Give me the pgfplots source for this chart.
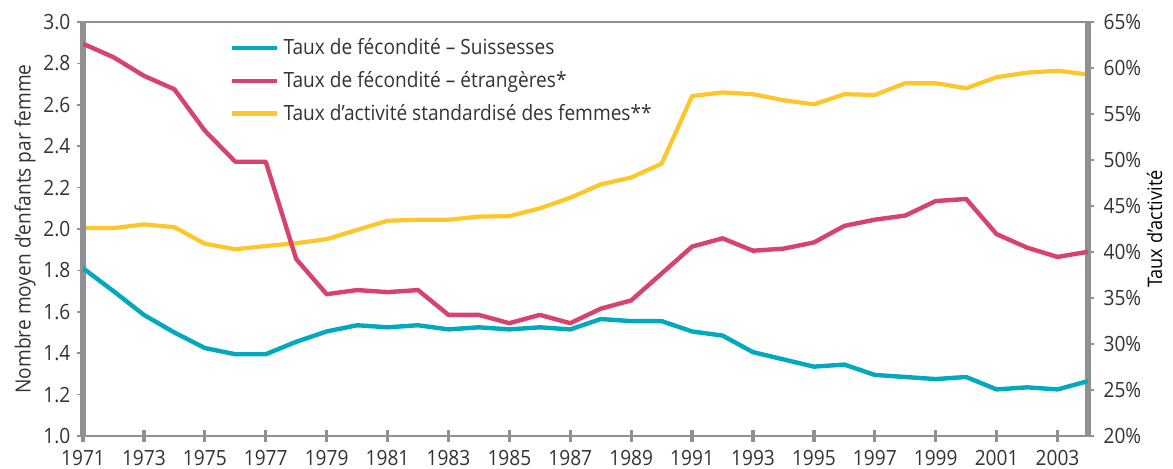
\documentclass[border=0pt]{standalone}
\usepackage{fontspec}
\setmainfont{Open Sans}[FakeStretch=0.91]
\usepackage{pgfplots}
\pgfplotsset{compat=1.18}
\definecolor{teal1}{HTML}{00A9BE}
\definecolor{red1}{HTML}{D8436E}
\definecolor{yel1}{HTML}{FFC629}
\definecolor{axgray}{HTML}{8E9093}
\definecolor{txt}{HTML}{333333}
\newcommand{\lblfont}{\fontsize{10.5}{12.6}\selectfont}
\pgfplotsset{
  common/.style={
    scale only axis, width=502.5pt, height=207pt,
    xmin=1971, xmax=2004,
    /pgf/number format/assume math mode=true,
    tick label style={font=\lblfont, text=txt},
    label style={font=\lblfont, text=txt},
    scaled ticks=false,
  }
}
\begin{document}
\begin{tikzpicture}
% right axis: activity rate
\begin{axis}[common,
  ymin=20, ymax=65,
  axis x line=none,
  axis y line=right,
  y axis line style={-, axgray, line width=2.6pt},
  ytick={20,25,30,35,40,45,50,55,60,65},
  yticklabel={\pgfmathprintnumber{\tick}\%},
  ytick align=outside,
  y tick style={axgray, line width=0.8pt, /pgfplots/major tick length=3pt},
  ylabel={Taux d’activité},
  ylabel shift=-4pt,
]
\addplot[yel1, line width=2.1pt, line join=round] coordinates {
(1971,42.6) (1972,42.6) (1973,43.0) (1974,42.7) (1975,40.9) (1976,40.3)
(1977,40.65) (1978,40.95) (1979,41.4) (1980,42.4) (1981,43.4) (1982,43.5)
(1983,43.5) (1984,43.85) (1985,43.9) (1986,44.75) (1987,45.9) (1988,47.35)
(1989,48.1) (1990,49.6) (1991,56.95) (1992,57.35) (1993,57.15) (1994,56.5)
(1995,56.05) (1996,57.15) (1997,57.07) (1998,58.35) (1999,58.35) (2000,57.8)
(2001,59.0) (2002,59.5) (2003,59.7) (2004,59.3)
};
\end{axis}
% left axis: fertility
\begin{axis}[common, name=L,
  ymin=1, ymax=3,
  separate axis lines,
  x axis line style={axgray, line width=1.2pt},
  y axis line style={axgray, line width=2.6pt},
  xtick={1971,1973,...,2003},
  ytick={1.0,1.2,1.4,1.6,1.8,2.0,2.2,2.4,2.6,2.8,3.0},
  xtick pos=bottom, ytick pos=left,
  xtick align=center, ytick align=outside,
  x tick style={axgray, line width=1.6pt, /pgfplots/major tick length=6pt},
  y tick style={axgray, line width=0.8pt, /pgfplots/major tick length=3pt},
  xticklabel style={yshift=-1.5pt, /pgf/number format/1000 sep={}},
  yticklabel style={xshift=1.5pt, /pgf/number format/.cd, fixed, fixed zerofill, precision=1},
  ylabel={Nombre moyen d’enfants par femme},
  ylabel shift=-3pt,
  legend cell align=left,
  legend style={draw=none, fill=none, at={(0.14,0.98)}, anchor=north west,
    font=\lblfont, text=txt, row sep=2.8pt},
  legend image code/.code={\draw[#1] (0pt,0pt) -- (22.5pt,0pt);},
]
\addplot[teal1, line width=2.2pt, line join=round] coordinates {
(1971,1.81) (1972,1.70) (1973,1.585) (1974,1.50) (1975,1.425) (1976,1.395)
(1977,1.395) (1978,1.455) (1979,1.505) (1980,1.535) (1981,1.525) (1982,1.535)
(1983,1.515) (1984,1.525) (1985,1.515) (1986,1.525) (1987,1.515) (1988,1.565)
(1989,1.555) (1990,1.555) (1991,1.505) (1992,1.485) (1993,1.405) (1994,1.37)
(1995,1.335) (1996,1.345) (1997,1.295) (1998,1.285) (1999,1.275) (2000,1.285)
(2001,1.225) (2002,1.235) (2003,1.225) (2004,1.265)
};
\addlegendentry{Taux de fécondité – Suissesses}
\addplot[red1, line width=2.2pt, line join=round] coordinates {
(1971,2.895) (1972,2.83) (1973,2.74) (1974,2.675) (1975,2.475) (1976,2.325)
(1977,2.325) (1978,1.855) (1979,1.685) (1980,1.705) (1981,1.695) (1982,1.705)
(1983,1.585) (1984,1.585) (1985,1.545) (1986,1.585) (1987,1.545) (1988,1.615)
(1989,1.655) (1990,1.785) (1991,1.915) (1992,1.955) (1993,1.895) (1994,1.905)
(1995,1.935) (1996,2.015) (1997,2.045) (1998,2.065) (1999,2.135) (2000,2.145)
(2001,1.975) (2002,1.91) (2003,1.865) (2004,1.89)
};
\addlegendentry{Taux de fécondité – étrangères*}
\addlegendimage{yel1, line width=2.1pt}
\addlegendentry{Taux d’activité standardisé des femmes**}
\end{axis}
\pgfresetboundingbox
\path[use as bounding box] ([shift={(-41.5pt,-16.5pt)}]L.south west) rectangle ([shift={(42.5pt,11pt)}]L.north east);
\end{tikzpicture}
\end{document}
